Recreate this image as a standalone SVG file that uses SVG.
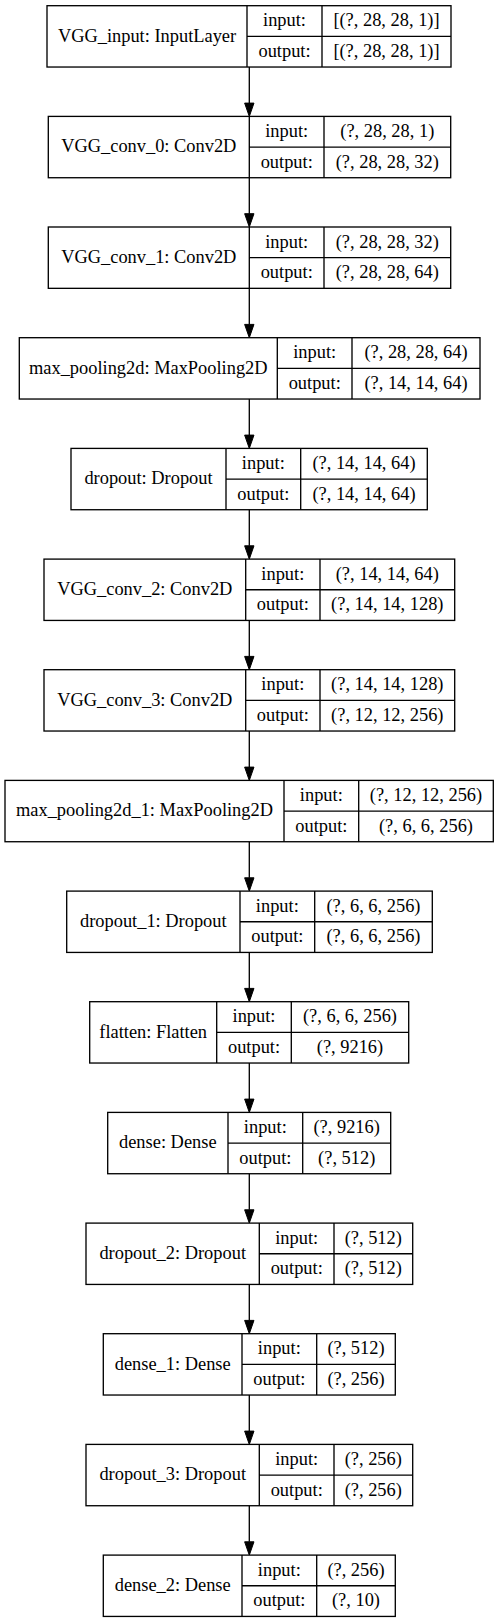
<svg xmlns="http://www.w3.org/2000/svg" width="499" height="1623" viewBox="0 0 499 1623" font-family="'Times New Roman', 'Liberation Serif', 'DejaVu Serif', serif">
<style>
.box{fill:#fff;stroke:#000;stroke-width:1.33}
.div{stroke:#000;stroke-width:1.33;fill:none}
.t{font-family:'Times New Roman','Liberation Serif','DejaVu Serif',serif;font-size:18.4px;fill:#000;text-anchor:middle}
.edge{stroke:#000;stroke-width:1.33;fill:none;marker-end:url(#arr)}
</style>
<defs>
<marker id="arr" markerUnits="userSpaceOnUse" markerWidth="14" markerHeight="10" refX="0" refY="4.67" orient="auto" overflow="visible">
<path d="M0,0 L13.33,4.67 L0,9.33 Z" fill="#000" stroke="#000" stroke-width="1"/>
</marker>
</defs>
<rect width="499" height="1623" fill="#fff"/>
<g id="connectors">
<line class="edge" x1="249.3" y1="67.0" x2="249.3" y2="103.1"/>
<line class="edge" x1="249.3" y1="177.7" x2="249.3" y2="213.7"/>
<line class="edge" x1="249.3" y1="288.3" x2="249.3" y2="324.4"/>
<line class="edge" x1="249.3" y1="399.0" x2="249.3" y2="435.1"/>
<line class="edge" x1="249.3" y1="509.7" x2="249.3" y2="545.8"/>
<line class="edge" x1="249.3" y1="620.4" x2="249.3" y2="656.4"/>
<line class="edge" x1="249.3" y1="731.0" x2="249.3" y2="767.1"/>
<line class="edge" x1="249.3" y1="841.7" x2="249.3" y2="877.8"/>
<line class="edge" x1="249.3" y1="952.4" x2="249.3" y2="988.4"/>
<line class="edge" x1="249.3" y1="1063.0" x2="249.3" y2="1099.1"/>
<line class="edge" x1="249.3" y1="1173.7" x2="249.3" y2="1209.8"/>
<line class="edge" x1="249.3" y1="1284.4" x2="249.3" y2="1320.4"/>
<line class="edge" x1="249.3" y1="1395.0" x2="249.3" y2="1431.1"/>
<line class="edge" x1="249.3" y1="1505.7" x2="249.3" y2="1541.8"/>
</g>

<g id="VGG_input" transform="translate(0,5.7)" class="t">
<rect class="box" x="47" y="0" width="404" height="61.33"/>
<path class="div" d="M247,0V61.33M322,0V61.33M247,30.67H451"/>
<text x="147" y="36">VGG_input: InputLayer</text>
<text x="284.5" y="20.6">input:</text>
<text x="284.5" y="51.3">output:</text>
<text x="386.5" y="20.6">[(?, 28, 28, 1)]</text>
<text x="386.5" y="51.3">[(?, 28, 28, 1)]</text>
</g>

<g id="VGG_conv_0" transform="translate(0,116.4)" class="t">
<rect class="box" x="48.3" y="0" width="402.4" height="61.33"/>
<path class="div" d="M249.3,0V61.33M324,0V61.33M249.3,30.67H450.7"/>
<text x="148.8" y="36">VGG_conv_0: Conv2D</text>
<text x="286.7" y="20.6">input:</text>
<text x="286.7" y="51.3">output:</text>
<text x="387.3" y="20.6">(?, 28, 28, 1)</text>
<text x="387.3" y="51.3">(?, 28, 28, 32)</text>
</g>

<g id="VGG_conv_1" transform="translate(0,227.0)" class="t">
<rect class="box" x="48.3" y="0" width="402.4" height="61.33"/>
<path class="div" d="M249.3,0V61.33M324,0V61.33M249.3,30.67H450.7"/>
<text x="148.8" y="36">VGG_conv_1: Conv2D</text>
<text x="286.7" y="20.6">input:</text>
<text x="286.7" y="51.3">output:</text>
<text x="387.3" y="20.6">(?, 28, 28, 32)</text>
<text x="387.3" y="51.3">(?, 28, 28, 64)</text>
</g>

<g id="max_pooling2d" transform="translate(0,337.7)" class="t">
<rect class="box" x="19.3" y="0" width="460.7" height="61.33"/>
<path class="div" d="M277.3,0V61.33M352,0V61.33M277.3,30.67H480"/>
<text x="148.3" y="36">max_pooling2d: MaxPooling2D</text>
<text x="314.7" y="20.6">input:</text>
<text x="314.7" y="51.3">output:</text>
<text x="416" y="20.6">(?, 28, 28, 64)</text>
<text x="416" y="51.3">(?, 14, 14, 64)</text>
</g>

<g id="dropout" transform="translate(0,448.4)" class="t">
<rect class="box" x="71" y="0" width="356.3" height="61.33"/>
<path class="div" d="M226,0V61.33M300.7,0V61.33M226,30.67H427.3"/>
<text x="148.5" y="36">dropout: Dropout</text>
<text x="263.3" y="20.6">input:</text>
<text x="263.3" y="51.3">output:</text>
<text x="364" y="20.6">(?, 14, 14, 64)</text>
<text x="364" y="51.3">(?, 14, 14, 64)</text>
</g>

<g id="VGG_conv_2" transform="translate(0,559.1)" class="t">
<rect class="box" x="44" y="0" width="410.7" height="61.33"/>
<path class="div" d="M245.7,0V61.33M320,0V61.33M245.7,30.67H454.7"/>
<text x="144.8" y="36">VGG_conv_2: Conv2D</text>
<text x="282.8" y="20.6">input:</text>
<text x="282.8" y="51.3">output:</text>
<text x="387.3" y="20.6">(?, 14, 14, 64)</text>
<text x="387.3" y="51.3">(?, 14, 14, 128)</text>
</g>

<g id="VGG_conv_3" transform="translate(0,669.7)" class="t">
<rect class="box" x="44" y="0" width="410.7" height="61.33"/>
<path class="div" d="M245.7,0V61.33M320,0V61.33M245.7,30.67H454.7"/>
<text x="144.8" y="36">VGG_conv_3: Conv2D</text>
<text x="282.8" y="20.6">input:</text>
<text x="282.8" y="51.3">output:</text>
<text x="387.3" y="20.6">(?, 14, 14, 128)</text>
<text x="387.3" y="51.3">(?, 12, 12, 256)</text>
</g>

<g id="max_pooling2d_1" transform="translate(0,780.4)" class="t">
<rect class="box" x="5" y="0" width="488.3" height="61.33"/>
<path class="div" d="M284,0V61.33M358.7,0V61.33M284,30.67H493.3"/>
<text x="144.5" y="36">max_pooling2d_1: MaxPooling2D</text>
<text x="321.3" y="20.6">input:</text>
<text x="321.3" y="51.3">output:</text>
<text x="426" y="20.6">(?, 12, 12, 256)</text>
<text x="426" y="51.3">(?, 6, 6, 256)</text>
</g>

<g id="dropout_1" transform="translate(0,891.1)" class="t">
<rect class="box" x="66.7" y="0" width="365.6" height="61.33"/>
<path class="div" d="M240,0V61.33M314.7,0V61.33M240,30.67H432.3"/>
<text x="153.3" y="36">dropout_1: Dropout</text>
<text x="277.3" y="20.6">input:</text>
<text x="277.3" y="51.3">output:</text>
<text x="373.5" y="20.6">(?, 6, 6, 256)</text>
<text x="373.5" y="51.3">(?, 6, 6, 256)</text>
</g>

<g id="flatten" transform="translate(0,1001.7)" class="t">
<rect class="box" x="89.7" y="0" width="319" height="61.33"/>
<path class="div" d="M216.7,0V61.33M291.3,0V61.33M216.7,30.67H408.7"/>
<text x="153.2" y="36">flatten: Flatten</text>
<text x="254" y="20.6">input:</text>
<text x="254" y="51.3">output:</text>
<text x="350" y="20.6">(?, 6, 6, 256)</text>
<text x="350" y="51.3">(?, 9216)</text>
</g>

<g id="dense" transform="translate(0,1112.4)" class="t">
<rect class="box" x="107.7" y="0" width="283" height="61.33"/>
<path class="div" d="M228,0V61.33M302.7,0V61.33M228,30.67H390.7"/>
<text x="167.8" y="36">dense: Dense</text>
<text x="265.3" y="20.6">input:</text>
<text x="265.3" y="51.3">output:</text>
<text x="346.7" y="20.6">(?, 9216)</text>
<text x="346.7" y="51.3">(?, 512)</text>
</g>

<g id="dropout_2" transform="translate(0,1223.1)" class="t">
<rect class="box" x="86" y="0" width="326.7" height="61.33"/>
<path class="div" d="M259.3,0V61.33M334,0V61.33M259.3,30.67H412.7"/>
<text x="172.7" y="36">dropout_2: Dropout</text>
<text x="296.7" y="20.6">input:</text>
<text x="296.7" y="51.3">output:</text>
<text x="373.3" y="20.6">(?, 512)</text>
<text x="373.3" y="51.3">(?, 512)</text>
</g>

<g id="dense_1" transform="translate(0,1333.7)" class="t">
<rect class="box" x="103.3" y="0" width="292" height="61.33"/>
<path class="div" d="M242,0V61.33M316.7,0V61.33M242,30.67H395.3"/>
<text x="172.7" y="36">dense_1: Dense</text>
<text x="279.3" y="20.6">input:</text>
<text x="279.3" y="51.3">output:</text>
<text x="356" y="20.6">(?, 512)</text>
<text x="356" y="51.3">(?, 256)</text>
</g>

<g id="dropout_3" transform="translate(0,1444.4)" class="t">
<rect class="box" x="86" y="0" width="326.7" height="61.33"/>
<path class="div" d="M259.3,0V61.33M334,0V61.33M259.3,30.67H412.7"/>
<text x="172.7" y="36">dropout_3: Dropout</text>
<text x="296.7" y="20.6">input:</text>
<text x="296.7" y="51.3">output:</text>
<text x="373.3" y="20.6">(?, 256)</text>
<text x="373.3" y="51.3">(?, 256)</text>
</g>

<g id="dense_2" transform="translate(0,1555.1)" class="t">
<rect class="box" x="103.3" y="0" width="292" height="61.33"/>
<path class="div" d="M242,0V61.33M316.7,0V61.33M242,30.67H395.3"/>
<text x="172.7" y="36">dense_2: Dense</text>
<text x="279.3" y="20.6">input:</text>
<text x="279.3" y="51.3">output:</text>
<text x="356" y="20.6">(?, 256)</text>
<text x="356" y="51.3">(?, 10)</text>
</g>
</svg>
